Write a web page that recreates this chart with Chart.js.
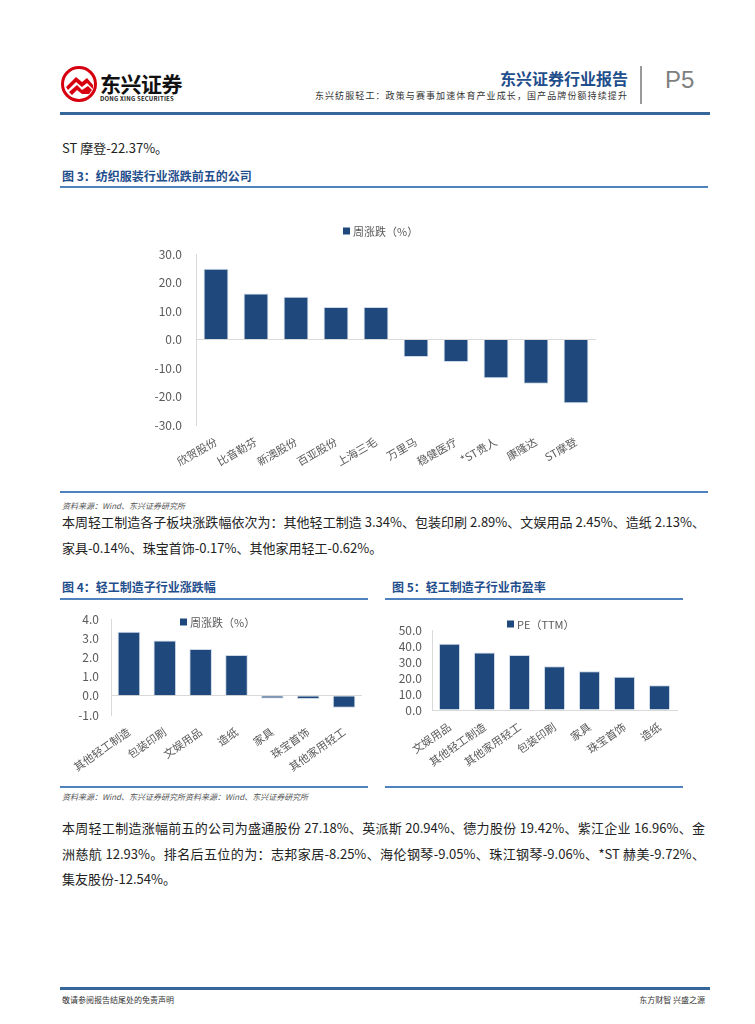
<!DOCTYPE html>
<html>
<head>
<meta charset="utf-8">
<script src="https://cdn.jsdelivr.net/npm/chart.js@4.4.1/dist/chart.umd.min.js"></script>
<style>
  body { margin: 0; background: #fff; }
  #page { position: relative; width: 755px; height: 1024px; overflow: hidden; font-family: "Noto Sans CJK SC", sans-serif; color: #222; }
  .abs { position: absolute; white-space: nowrap; }
  .rule { position: absolute; background: #4f81bd; height: 2px; }
  .fig { position: absolute; font-size: 12px; font-weight: bold; color: #1f4e8c; white-space: nowrap; }
  .src { position: absolute; font-size: 8px; font-style: italic; color: #555; white-space: nowrap; }
  .line { position: absolute; left: 62px; width: 643px; font-size: 13px; text-align: justify; text-align-last: justify; white-space: nowrap; }
  canvas { position: absolute; }
</style>
</head>
<body>
<div id="page">
  <!-- header -->
  <svg class="abs" style="left:60px;top:65px" width="38" height="38" viewBox="0 0 38 38">
    <circle cx="19" cy="19" r="16.5" fill="none" stroke="#d7000f" stroke-width="3"/>
    <path d="M6 22 L16 12 L22 17 L27 13 L33 20 L33 24 L27 18 L22 22 L16 17 L8 25 Z" fill="#d7000f"/>
    <path d="M9 27 L17 20 L22 25 L28 21 L32 25 L29 29 L22 29 L17 25 L12 30 Z" fill="#d7000f"/>
  </svg>
  <div class="abs" style="left:100px;top:68px;font-size:21px;font-weight:bold;color:#111;letter-spacing:-0.5px">东兴证券</div>
  <div class="abs" style="left:100px;top:94px;font-size:6px;font-weight:bold;color:#222;letter-spacing:0.2px">DONG XING SECURITIES</div>
  <div class="abs" style="right:127px;top:66px;font-size:16px;font-weight:bold;color:#1f4e8c">东兴证券行业报告</div>
  <div class="abs" style="right:127px;top:89px;font-size:9px;color:#333;letter-spacing:1.1px">东兴纺服轻工：政策与赛事加速体育产业成长，国产品牌份额持续提升</div>
  <div class="abs" style="left:640px;top:66px;width:2px;height:38px;background:#999"></div>
  <div class="abs" style="left:665px;top:66px;font-size:24px;color:#7f7f7f;font-family:'Liberation Sans',sans-serif">P5</div>
  <div class="rule" style="left:60px;top:112px;width:650px;height:3px;background:#35679a"></div>

  <div class="abs" style="left:62px;top:138px;font-size:13px">ST 摩登-22.37%。</div>
  <div class="fig" style="left:62px;top:167px">图 3：纺织服装行业涨跌前五的公司</div>
  <div class="rule" style="left:60px;top:186px;width:648px"></div>

  <canvas id="c3" width="490" height="275" style="left:130px;top:215px"></canvas>

  <div class="rule" style="left:60px;top:491px;width:648px"></div>
  <div class="src" style="left:62px;top:500px">资料来源：Wind、东兴证券研究所</div>

  <div class="line" style="top:512px">本周轻工制造各子板块涨跌幅依次为：其他轻工制造 3.34%、包装印刷 2.89%、文娱用品 2.45%、造纸 2.13%、</div>
  <div class="abs" style="left:62px;top:538px;font-size:13px">家具-0.14%、珠宝首饰-0.17%、其他家用轻工-0.62%。</div>

  <div class="fig" style="left:62px;top:578px">图 4：轻工制造子行业涨跌幅</div>
  <div class="rule" style="left:60px;top:598px;width:308px"></div>
  <div class="fig" style="left:392px;top:578px">图 5：轻工制造子行业市盈率</div>
  <div class="rule" style="left:385px;top:598px;width:298px"></div>

  <canvas id="c4" width="320" height="185" style="left:50px;top:600px"></canvas>
  <canvas id="c5" width="310" height="185" style="left:380px;top:600px"></canvas>

  <div class="rule" style="left:60px;top:786px;width:308px"></div>
  <div class="rule" style="left:385px;top:786px;width:298px"></div>
  <div class="src" style="left:62px;top:791px">资料来源：Wind、东兴证券研究所资料来源：Wind、东兴证券研究所</div>

  <div class="line" style="top:818px">本周轻工制造涨幅前五的公司为盛通股份 27.18%、英派斯 20.94%、德力股份 19.42%、紫江企业 16.96%、金</div>
  <div class="line" style="top:844px">洲慈航 12.93%。排名后五位的为：志邦家居-8.25%、海伦钢琴-9.05%、珠江钢琴-9.06%、*ST 赫美-9.72%、</div>
  <div class="abs" style="left:62px;top:869px;font-size:13px">集友股份-12.54%。</div>

  <!-- footer -->
  <div class="rule" style="left:60px;top:987px;width:650px;height:3px;background:#35679a"></div>
  <div class="src" style="left:62px;top:994px;font-style:normal;color:#333">敬请参阅报告结尾处的免责声明</div>
  <div class="src" style="right:50px;top:994px;font-style:normal;color:#333">东方财智 兴盛之源</div>
</div>

<script>
// 图3 纺织服装行业涨跌前五的公司
const fashionNames = ['欣贺股份', '比音勒芬', '新澳股份', '百亚股份', '上海三毛', '万里马', '稳健医疗', '*ST贵人', '康隆达', 'ST摩登'];
const fashionChange = [24.8, 16.1, 15.0, 11.4, 11.4, -6.1, -7.9, -13.6, -15.5, -22.37];

// 图4 轻工制造子行业涨跌幅
const lightNames = ['其他轻工制造', '包装印刷', '文娱用品', '造纸', '家具', '珠宝首饰', '其他家用轻工'];
const lightChange = [3.34, 2.89, 2.45, 2.13, -0.14, -0.17, -0.62];

// 图5 轻工制造子行业市盈率
const peNames = ['文娱用品', '其他轻工制造', '其他家用轻工', '包装印刷', '家具', '珠宝首饰', '造纸'];
const peValues = [41.4, 36.0, 34.4, 27.3, 24.2, 20.8, 15.4];

const barColor = '#1f497d';
const axisColor = '#d9d9d9';
const textColor = '#595959';
const fontFamily = '"Noto Sans CJK SC", sans-serif';

// small square + label, placed where the report has it
const legendMark = {
    id: 'legendMark',
    afterDraw(chart, args, opts) {
        const ctx = chart.ctx;
        ctx.save();
        ctx.fillStyle = barColor;
        ctx.fillRect(opts.x, opts.y - 3.5, 7, 7);
        ctx.fillStyle = textColor;
        ctx.font = '11px ' + fontFamily;
        ctx.textBaseline = 'middle';
        ctx.fillText(chart.data.datasets[0].label, opts.x + 10, opts.y + 0.5);
        ctx.restore();
    }
};

const makeChart = (id, labels, values, label, cfg) => {
    new Chart(document.getElementById(id), {
        type: 'bar',
        data: {
            labels: labels,
            datasets: [{
                label: label,
                data: values,
                backgroundColor: barColor,
                borderColor: 'rgba(200,212,228,0.9)',
                borderWidth: 1,
                barPercentage: 1,
                categoryPercentage: cfg.barPct
            }]
        },
        options: {
            responsive: false,
            animation: false,
            layout: { padding: cfg.padding },
            plugins: {
                legend: { display: false },
                tooltip: { enabled: false },
                legendMark: cfg.legend
            },
            scales: {
                x: {
                    grid: { display: false },
                    border: { display: cfg.xBorder, color: axisColor },
                    ticks: {
                        color: textColor,
                        font: { size: 11, family: fontFamily },
                        minRotation: cfg.rotation,
                        maxRotation: cfg.rotation,
                        autoSkip: false,
                        padding: 2
                    },
                    afterFit: s => { s.height = cfg.xHeight; }
                },
                y: {
                    min: cfg.min,
                    max: cfg.max,
                    border: { color: axisColor },
                    grid: {
                        drawTicks: false,
                        color: c => (c.tick.value === 0 && cfg.min < 0) ? axisColor : 'rgba(0,0,0,0)'
                    },
                    ticks: {
                        stepSize: cfg.step,
                        autoSkip: false,
                        color: textColor,
                        font: { size: 12, family: fontFamily },
                        padding: cfg.yPad,
                        callback: v => v.toFixed(1)
                    },
                    afterFit: s => { s.width = cfg.yWidth; }
                }
            }
        },
        plugins: [legendMark]
    });
};

makeChart('c3', fashionNames, fashionChange, '周涨跌（%）', {
    barPct: 0.62, padding: { top: 39, right: 24, left: 0, bottom: 0 },
    legend: { x: 213, y: 16 }, xBorder: false, rotation: 30, xHeight: 65,
    min: -30, max: 30, step: 10, yPad: 14, yWidth: 66
});

makeChart('c4', lightNames, lightChange, '周涨跌（%）', {
    barPct: 0.63, padding: { top: 9, right: 8, left: 0, bottom: 0 },
    legend: { x: 130, y: 22 }, xBorder: false, rotation: 35, xHeight: 70,
    min: -1, max: 4, step: 1, yPad: 12, yWidth: 61
});

makeChart('c5', peNames, peValues, 'PE（TTM）', {
    barPct: 0.6, padding: { top: 30, right: 13, left: 0, bottom: 0 },
    legend: { x: 127, y: 24 }, xBorder: true, rotation: 35, xHeight: 75,
    min: 0, max: 50, step: 10, yPad: 10, yWidth: 52
});
</script>
</body>
</html>
